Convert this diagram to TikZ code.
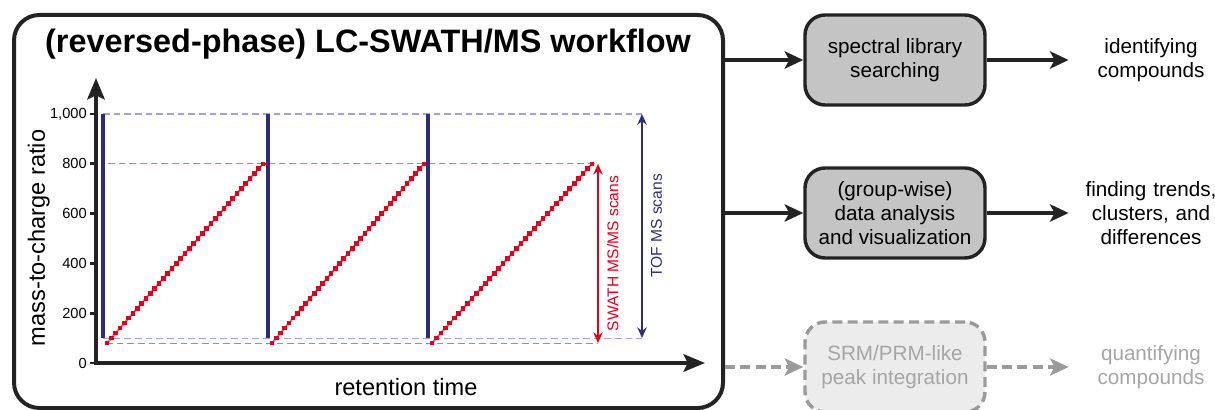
\documentclass[tikz,border=0pt]{standalone}
\usepackage{fontspec}
\setmainfont{Liberation Sans}
\usetikzlibrary{positioning,calc,arrows.meta}

\definecolor{swathred}{RGB}{226,0,26}
\definecolor{tofblue}{RGB}{45,44,128}
\definecolor{guidebluec}{RGB}{160,160,225}
\definecolor{guideredc}{RGB}{242,105,105}
\definecolor{inkdark}{RGB}{35,35,35}
\definecolor{stepgray}{RGB}{196,196,196}
\definecolor{idlegray}{RGB}{155,155,155}
\definecolor{idletext}{RGB}{165,165,165}
\definecolor{idlefill}{RGB}{236,236,236}

% m/z value -> vertical position of the chart
\newcommand{\mz}[1]{(363-0.249*(#1))}
\newcommand{\rampsteps}{36}

\tikzset{
  frame/.style={draw=inkdark, line width=3pt, rounded corners=19pt, inner sep=0pt,
    minimum width=531.75pt, minimum height=294.75pt},
  stepbox/.style={draw=inkdark, fill=stepgray, line width=2.6pt, rounded corners=15pt,
    minimum width=135pt, minimum height=67.5pt, align=center, inner sep=2pt,
    font=\fontsize{15.5}{18}\selectfont},
  idlebox/.style={stepbox, draw=idlegray, fill=idlefill, text=idletext,
    dash pattern=on 7.5pt off 4pt},
  outcome/.style={text width=100pt, align=center, inner sep=0pt,
    font=\fontsize{15.5}{18}\selectfont},
  flow/.style={draw=inkdark, line width=2.5pt,
    -{Stealth[length=14pt,width=13pt,inset=3.5pt]}},
  idleflow/.style={flow, draw=idlegray, dash pattern=on 7.5pt off 4pt},
  axis/.style={draw=inkdark, line width=3pt,
    {Stealth[length=16pt,width=13pt,inset=3pt]}-{Stealth[length=16pt,width=13pt,inset=3pt]}},
  axislabel/.style={font=\fontsize{17.7}{21}\selectfont},
  ticklabel/.style={anchor=east, inner sep=0pt, font=\fontsize{11}{13}\selectfont},
  tofbar/.style={draw=tofblue, line width=3pt},
  guideblue/.style={draw=guidebluec, line width=0.8pt, dash pattern=on 5pt off 3pt},
  guidered/.style={draw=guideredc, line width=0.8pt, dash pattern=on 5pt off 3pt},
  scanarrow/.style={line width=1.6pt, {Stealth[length=8pt,width=7pt]}-{Stealth[length=8pt,width=7pt]}},
  scanlabel/.style={midway, rotate=90, anchor=north, inner sep=6pt,
    font=\fontsize{11.7}{14}\selectfont}
}

\begin{document}
\begin{tikzpicture}[x=0.75pt, y=-0.75pt]
  \useasboundingbox (0,0) rectangle (1215,410);

  % acquisition part
  \node[frame] (workflow) at (368.5,211.5) {};
  \node[anchor=base, font=\bfseries\fontsize{24.3}{29}\selectfont] (title) at (368,53)
    {(reversed-phase) LC-SWATH/MS workflow};

  \draw[guideblue] (103,{\mz{1000}}) -- (642,{\mz{1000}});
  \draw[guideblue] (103,{\mz{100}}) -- (642,{\mz{100}});
  \draw[guidered] (108,{\mz{800}}) -- (598,{\mz{800}});
  \draw[guidered] (106,{\mz{80}}) -- (598,{\mz{80}});

  \draw[axis] (96,78) -- (96,363) -- (705,363);
  \foreach \v/\txt in {0/0,200/200,400/400,600/600,800/800,1000/{1,000}}{
    \draw[inkdark, line width=2pt] (90,{\mz{\v}}) -- (96,{\mz{\v}});
    \node[ticklabel] (tick\v) at (87,{\mz{\v}}) {\txt};
  }
  \node[axislabel, rotate=90, anchor=base] (mzlabel) at (45,238) {mass-to-charge ratio};
  \node[axislabel, anchor=base] (rtlabel) at (406,395) {retention time};

  % survey scans
  \foreach \t in {103,268,428}
    \draw[tofbar] (\t,{\mz{100}}) -- (\t,{\mz{1000}});

  % stepped isolation windows
  \foreach \ra/\rb in {107/263,272/424,432/592}{
    \draw[guideredc, line width=1.5pt] (\ra,{\mz{80}}) -- (\rb,{\mz{800}});
    \foreach \i in {0,...,\rampsteps}{
      \pgfmathsetmacro{\rx}{\ra+(\rb-\ra)*\i/\rampsteps}
      \fill[swathred] ({\rx-2.3},{\mz{80+20*\i}-2.3}) rectangle ++(4.6,4.6);
    }
  }
  \draw[swathred, line width=1.2pt] (263,{\mz{800}}) -- (268,{\mz{800}});

  \draw[scanarrow, draw=swathred] (598,{\mz{800}}) -- (598,{\mz{80}})
    node[scanlabel, text=swathred] (swathlabel) {SWATH MS/MS scans};
  \draw[scanarrow, draw=tofblue] (642,{\mz{1000}}) -- (642,{\mz{100}})
    node[scanlabel, text=tofblue] (toflabel) {TOF MS scans};

  % data processing
  \node[stepbox] (search) at (895,60) {spectral library\\searching};
  \node[stepbox] (stats) at (895,213) {(group-wise)\\data analysis\\and visualization};
  \node[idlebox] (quant) at (895,367) {SRM/PRM-like\\peak integration};

  \node[outcome, right=73pt of search] (ident) {identifying\\compounds};
  \node[outcome, right=73pt of stats] (trends) {finding trends,\\clusters, and\\differences};
  \node[outcome, right=73pt of quant, text=idletext] (amount) {quantifying\\compounds};

  \draw[flow] (workflow.east |- search) -- (search);
  \draw[flow] (workflow.east |- stats) -- (stats);
  \draw[idleflow] (workflow.east |- quant) -- (quant);

  \draw[flow, shorten >=11.6pt] (search) -- (ident);
  \draw[flow, shorten >=11.6pt] (stats) -- (trends);
  \draw[idleflow, shorten >=11.6pt] (quant) -- (amount);
\end{tikzpicture}
\end{document}
